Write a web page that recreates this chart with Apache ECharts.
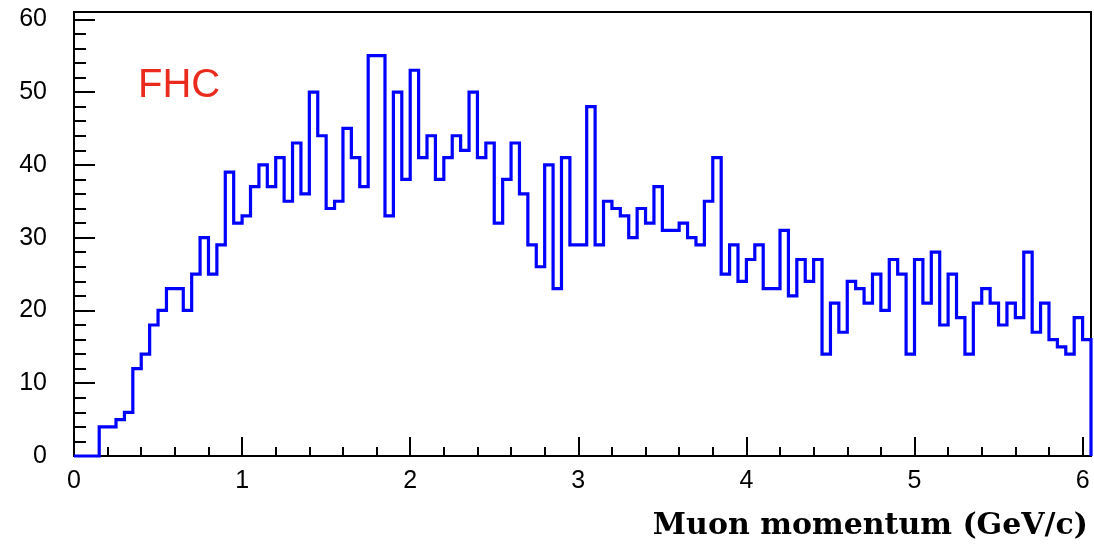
<!DOCTYPE html>
<html><head><meta charset="utf-8">
<script src="https://cdn.jsdelivr.net/npm/echarts@6/dist/echarts.min.js"></script>
<style>html,body{margin:0;padding:0;background:#fff}#c{width:1094px;height:553px}</style>
</head><body><div id="c"></div>
<script>
// Histogram: bins of 0.05 GeV/c starting at 0
const binStart = 0.0;
const binWidth = 0.05;
const counts = [
  0, 0, 0, 4, 4, 5, 6, 12, 14, 18,
  20, 23, 23, 20, 25, 30, 25, 29, 39, 32,
  33, 37, 40, 37, 41, 35, 43, 36, 50, 44,
  34, 35, 45, 41, 37, 55, 55, 33, 50, 38,
  53, 41, 44, 38, 41, 44, 42, 50, 41, 43,
  32, 38, 43, 36, 29, 26, 40, 23, 41, 29,
  29, 48, 29, 35, 34, 33, 30, 34, 32, 37,
  31, 31, 32, 30, 29, 35, 41, 25, 29, 24,
  27, 29, 23, 23, 31, 22, 27, 24, 27, 14,
  21, 17, 24, 23, 21, 25, 20, 27, 25, 14,
  27, 21, 28, 18, 25, 19, 14, 21, 23, 21,
  18, 21, 19, 28, 17, 21, 16, 15, 14, 19,
  16
];
const xMajorTicks = [0, 1, 2, 3, 4, 5, 6];
const xMinorTicks = [0.2, 0.4, 0.6, 0.8, 1.2, 1.4, 1.6, 1.8, 2.2, 2.4, 2.6, 2.8, 3.2, 3.4, 3.6, 3.8, 4.2, 4.4, 4.6, 4.8, 5.2, 5.4, 5.6, 5.8];
const yMajorTicks = [0, 10, 20, 30, 40, 50, 60];
const yMinorTicks = [2, 4, 6, 8, 12, 14, 16, 18, 22, 24, 26, 28, 32, 34, 36, 38, 42, 44, 46, 48, 52, 54, 56, 58];
const xTitle = 'Muon momentum (GeV/c)';
const tagText = 'FHC';
const yMax = 61;

const xEnd = binStart + counts.length * binWidth;
const points = counts.map((c, i) => [binStart + i * binWidth, c]);
points.push([xEnd, counts[counts.length - 1]]);
points.push([xEnd, 0]);

const black = '#000';
const tickFont = { fontSize: 25, color: black, fontFamily: 'Liberation Sans, Arial, sans-serif' };

const chart = echarts.init(document.getElementById('c'), null, { renderer: 'canvas' });
chart.setOption({
  animation: false,
  backgroundColor: '#fff',
  grid: {
    left: 74, right: 3, top: 12, bottom: 97,
    show: true, borderColor: black, borderWidth: 2, backgroundColor: 'transparent',
    outerBoundsMode: 'none'
  },
  xAxis: [
    {
      type: 'value', min: binStart, max: xEnd, position: 'bottom',
      axisLine: { show: true, onZero: false, lineStyle: { color: black, width: 2 } },
      axisTick: { show: true, inside: true, length: 19, customValues: xMajorTicks, lineStyle: { color: black, width: 2 } },
      axisLabel: Object.assign({ customValues: xMajorTicks, margin: 13 }, tickFont),
      splitLine: { show: false }
    },
    {
      type: 'value', min: binStart, max: xEnd, position: 'bottom',
      axisLine: { show: false },
      axisTick: { show: true, inside: true, length: 9, customValues: xMinorTicks, lineStyle: { color: black, width: 2 } },
      axisLabel: { show: false },
      splitLine: { show: false }
    }
  ],
  yAxis: [
    {
      type: 'value', min: 0, max: yMax, position: 'left',
      axisLine: { show: true, onZero: false, lineStyle: { color: black, width: 2 } },
      axisTick: { show: true, inside: true, length: 21, customValues: yMajorTicks, lineStyle: { color: black, width: 2 } },
      axisLabel: Object.assign({ customValues: yMajorTicks, margin: 27 }, tickFont),
      splitLine: { show: false }
    },
    {
      type: 'value', min: 0, max: yMax, position: 'left',
      axisLine: { show: false },
      axisTick: { show: true, inside: true, length: 12, customValues: yMinorTicks, lineStyle: { color: black, width: 2 } },
      axisLabel: { show: false },
      splitLine: { show: false }
    }
  ],
  series: [{
    type: 'line',
    xAxisIndex: 0, yAxisIndex: 0,
    step: 'end',
    data: points,
    symbol: 'none',
    clip: false,
    lineStyle: { color: '#0000ff', width: 3.2, join: 'miter', cap: 'butt' },
    z: 5
  }],
  graphic: [
    {
      type: 'text', left: 138, top: 66,
      style: { text: tagText, fill: '#ea2a1c', font: '40px "Liberation Sans", Arial, sans-serif' }
    },
    {
      type: 'text', right: 6, top: 511,
      style: { text: xTitle, fill: black, font: 'bold 30px "DejaVu Serif", serif' }
    }
  ]
});
</script>
</body></html>
